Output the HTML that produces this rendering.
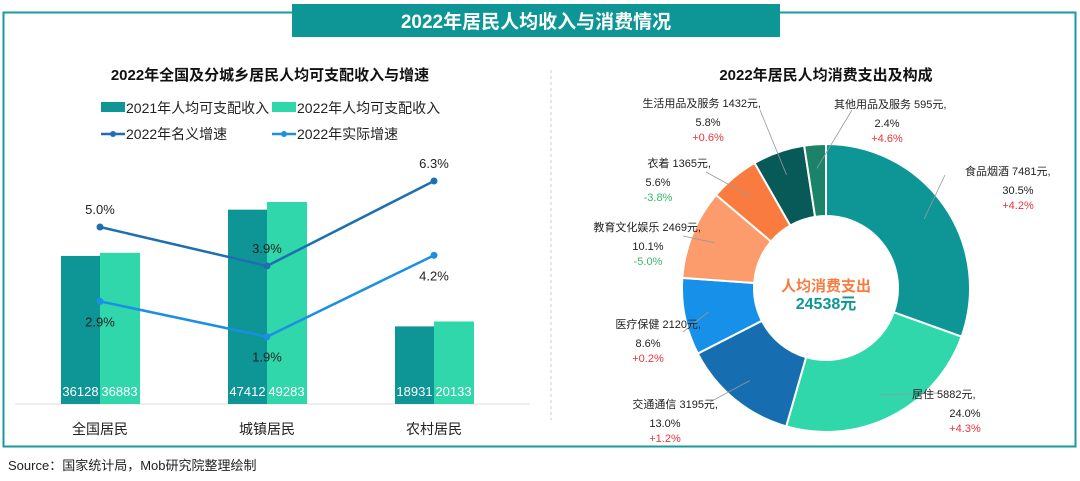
<!DOCTYPE html>
<html><head><meta charset="utf-8">
<style>
body{margin:0;background:#fff;font-family:"Liberation Sans","Noto Sans CJK SC",sans-serif;}
svg text{font-family:"Liberation Sans","Noto Sans CJK SC",sans-serif;}
</style></head>
<body>
<svg id="s" width="1080" height="476" viewBox="0 0 1080 476" xmlns="http://www.w3.org/2000/svg">
<rect x="3.5" y="12.5" width="1072" height="434" fill="none" stroke="#1a9a9a" stroke-width="2"/>
<rect x="292" y="4" width="488" height="33" fill="#0e9595"/>
<text x="536" y="28" text-anchor="middle" font-size="19" font-weight="bold" fill="#fff">2022年居民人均收入与消费情况</text>
<line x1="551" y1="70" x2="551" y2="420" stroke="#ccc" stroke-dasharray="3,3"/>
<text x="270" y="80" text-anchor="middle" font-size="15" font-weight="bold" fill="#111">2022年全国及分城乡居民人均可支配收入与增速</text>
<text x="826" y="80" text-anchor="middle" font-size="15" font-weight="bold" fill="#111">2022年居民人均消费支出及构成</text>
<g font-size="14" fill="#222">
<rect x="101" y="102" width="24" height="10" fill="#0e9595"/>
<text x="126" y="113">2021年人均可支配收入</text>
<rect x="272" y="102" width="24" height="10" fill="#2fd7ab"/>
<text x="297" y="113">2022年人均可支配收入</text>
<line x1="101" y1="134" x2="125" y2="134" stroke="#1f6fb0" stroke-width="2.5"/><circle cx="113" cy="134" r="3" fill="#1f6fb0"/>
<text x="126" y="139">2022年名义增速</text>
<line x1="272" y1="134" x2="296" y2="134" stroke="#1a8fe3" stroke-width="2.5"/><circle cx="284" cy="134" r="3" fill="#1a8fe3"/>
<text x="297" y="139">2022年实际增速</text>
</g>
<g id="left"></g>
<g id="right"></g>
<text x="8" y="470" font-size="13" fill="#222">Source：国家统计局，Mob研究院整理绘制</text>
</svg>
<script>
const categories=["全国居民","城镇居民","农村居民"];
const income2021=[36128,47412,18931];
const income2022=[36883,49283,20133];
const nominalGrowth=[5.0,3.9,6.3];
const realGrowth=[2.9,1.9,4.2];
const sliceNames=["食品烟酒","居住","交通通信","医疗保健","教育文化娱乐","衣着","生活用品及服务","其他用品及服务"];
const sliceValues=[7481,5882,3195,2120,2469,1365,1432,595];
const slicePct=["30.5%","24.0%","13.0%","8.6%","10.1%","5.6%","5.8%","2.4%"];
const sliceChange=["+4.2%","+4.3%","+1.2%","+0.2%","-5.0%","-3.8%","+0.6%","+4.6%"];
const totalSpend="24538";

const NS="http://www.w3.org/2000/svg";
function mk(tag,attrs,parent,txt){const e=document.createElementNS(NS,tag);for(const k in attrs)e.setAttribute(k,attrs[k]);if(txt!==undefined)e.textContent=txt;parent.appendChild(e);return e;}
const L=document.getElementById('left');
const base=404, cx0=100, step=167, bw=39;
const yIncome=v=>base-v*202/49283;
const yPct=v=>base-v*35.4;
const xC=i=>cx0+i*step;
const ax=mk('line',{x1:15,y1:base,x2:530,y2:base,stroke:'#ddd'},L);


categories.forEach((c,i)=>{
  const b1=mk('rect',{x:xC(i)-bw,y:yIncome(income2021[i]),width:bw,height:base-yIncome(income2021[i]),fill:'#0e9595'},L);
  
  
  const b2=mk('rect',{x:xC(i),y:yIncome(income2022[i]),width:bw+1,height:base-yIncome(income2022[i]),fill:'#2fd7ab'},L);
  
  
  const t1=mk('text',{x:xC(i)-bw/2,y:base-8,'text-anchor':'middle','font-size':13,fill:'#fff'},L,income2021[i]);
  
  
  const t2=mk('text',{x:xC(i)+bw/2,y:base-8,'text-anchor':'middle','font-size':13,fill:'#fff'},L,income2022[i]);
  
  
  const tc=mk('text',{x:xC(i),y:434,'text-anchor':'middle','font-size':14,fill:'#222'},L,c);
  
  
});
function series(vals,color,name,above){
  const pl=mk('polyline',{points:vals.map((v,i)=>xC(i)+','+yPct(v)).join(' '),fill:'none',stroke:color,'stroke-width':2.5},L);
  
  
  vals.forEach((v,i)=>{
    const c=mk('circle',{cx:xC(i),cy:yPct(v),r:3.5,fill:color},L);
    
    
    const t=mk('text',{x:xC(i),y:above?yPct(v)-13:yPct(v)+25,'text-anchor':'middle','font-size':13,fill:'#222'},L,v.toFixed(1)+'%');
    
    
  });
}
series(nominalGrowth,'#1f6fb0','nominal-growth',true);
series(realGrowth,'#1a8fe3','real-growth',false);

// donut
const R=document.getElementById('right');
const dcx=826,dcy=288,ro=144,ri=72;
const colors=['#0e9595','#2fd7ab','#166eb0','#1690e8','#fc9b6b','#f97b3f','#075a58','#1b8468'];
const total=sliceValues.reduce((a,b)=>a+b,0);
let a0=0;
const labelPos=[[983,175,'start'],[930,398,'start'],[700,408,'end'],[683,328,'end'],[683,231,'end'],[693,167,'end'],[743,107,'end'],[852,108,'start']];
const leadEnd=[[945,175],[938,393],[710,402],[683,332],[683,236],[706,172],[760,110],[852,110]];
sliceValues.forEach((v,i)=>{
  const a1=a0+v/total*2*Math.PI;
  const p=(a,r)=>[dcx+r*Math.sin(a),dcy-r*Math.cos(a)];
  const [x1,y1]=p(a0,ro),[x2,y2]=p(a1,ro),[x3,y3]=p(a1,ri),[x4,y4]=p(a0,ri);
  const lg=(a1-a0)>Math.PI?1:0;
  const s=mk('path',{d:`M${x1},${y1}A${ro},${ro} 0 ${lg} 1 ${x2},${y2}L${x3},${y3}A${ri},${ri} 0 ${lg} 0 ${x4},${y4}Z`,fill:colors[i],stroke:'#fff','stroke-width':2},R);
  
  
  const am=(a0+a1)/2;const [mx,my]=p(am,(ro+ri)/2+12);
  const ln=mk('line',{x1:mx,y1:my,x2:leadEnd[i][0],y2:leadEnd[i][1],stroke:'#999','stroke-width':0.8},R);
  
  
  const [lx,ly,anc]=labelPos[i];
  const cxl=anc==='end'?lx-30:lx+30;
  const t=mk('text',{x:anc==='end'?lx+18:lx-18,y:ly,'text-anchor':anc==='end'?'end':'start','font-size':11,fill:'#222'},R,sliceNames[i]+' '+sliceValues[i]+'元,');
  
  
  const tx=anc==='end'?lx-35:lx+35;
  const t2=mk('text',{x:tx,y:ly+19,'text-anchor':'middle','font-size':11,fill:'#222'},R,slicePct[i]);
  
  
  const t3=mk('text',{x:tx,y:ly+34,'text-anchor':'middle','font-size':11,fill:sliceChange[i][0]==='-'?'#3ab86a':'#e8343a'},R,sliceChange[i]);
  
  
  a0=a1;
});
const c1=mk('text',{x:dcx,y:291,'text-anchor':'middle','font-size':15,'font-weight':'bold',fill:'#f97b3f'},R,'人均消费支出');


const c2=mk('text',{x:dcx,y:309,'text-anchor':'middle','font-size':16,'font-weight':'bold',fill:'#0e9595'},R,totalSpend+'元');


</script>
</body></html>
